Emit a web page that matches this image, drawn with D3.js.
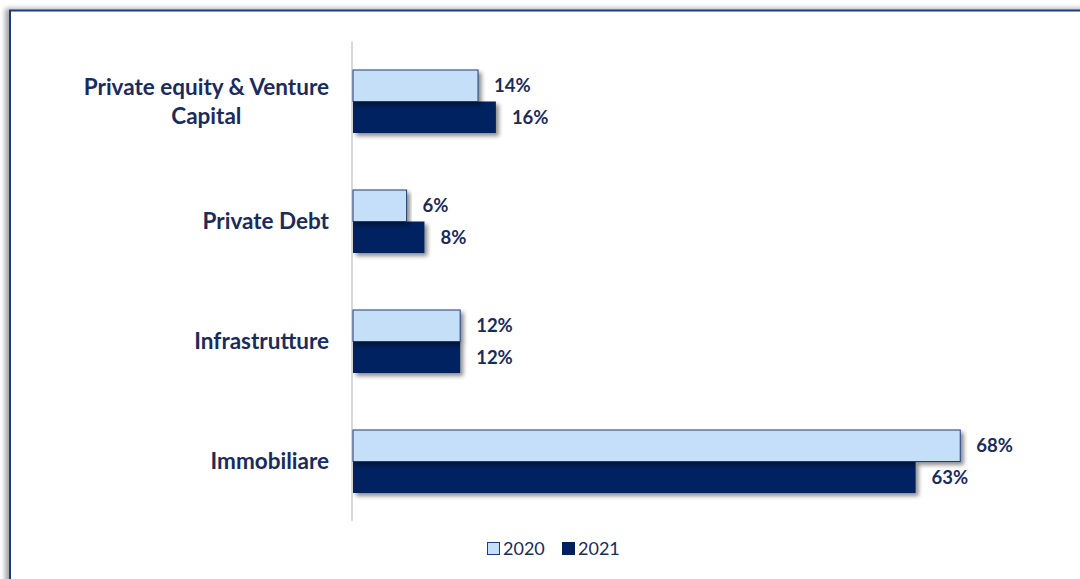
<!DOCTYPE html>
<html>
<head>
<meta charset="utf-8">
<script src="https://cdn.jsdelivr.net/npm/d3@7"></script>
<style>
  html, body { margin: 0; padding: 0; background: #ffffff; }
  svg { display: block; }
</style>
</head>
<body>
<svg id="chart" width="1080" height="579"></svg>
<script>
// Asset allocation by category, 2020 vs 2021 (%)
const categories = ["Private equity & Venture Capital", "Private Debt", "Infrastrutture", "Immobiliare"];
const categoryLines = [["Private equity & Venture", "Capital"], ["Private Debt"], ["Infrastrutture"], ["Immobiliare"]];
const seriesNames = ["2020", "2021"];
const values2020 = [14, 6, 12, 68];
const values2021 = [16, 8, 12, 63];

const W = 1080, H = 579;
const navy = "#002060";
const light = "#C6DFF8";
const textColor = "#1A2B5E";
const font = "Lato, 'Open Sans', sans-serif";

const svg = d3.select("#chart");
const defs = svg.append("defs");

defs.append("filter").attr("id", "barShadow")
  .attr("x", "-5%").attr("y", "-20%").attr("width", "115%").attr("height", "160%")
  .append("feDropShadow")
  .attr("dx", 3).attr("dy", 3).attr("stdDeviation", 2)
  .attr("flood-color", "#000").attr("flood-opacity", 0.45);

defs.append("filter").attr("id", "frameShadow")
  .attr("x", "-5%").attr("y", "-5%").attr("width", "110%").attr("height", "110%")
  .append("feDropShadow")
  .attr("dx", -4).attr("dy", -1).attr("stdDeviation", 2.5)
  .attr("flood-color", "#000").attr("flood-opacity", 0.35);

// Chart frame
svg.append("rect")
  .attr("x", 10).attr("y", 10.5)
  .attr("width", 1200).attr("height", 700)
  .attr("fill", "#fff")
  .attr("stroke", "#1F3C7C").attr("stroke-width", 2)
  .attr("filter", "url(#frameShadow)");

// Scales
const x = d3.scaleLinear().domain([0, 70]).range([353, 353 + 70 * 8.93]);
const y = d3.scaleBand().domain(categories).range([41.5, 521.5])
  .paddingInner(0.475).paddingOuter(0.2375);
const ySub = d3.scaleBand().domain(seriesNames).range([0, y.bandwidth()]);

const rows = categories.map((c, i) => ({
  cat: c,
  lines: categoryLines[i],
  vals: [
    { s: "2020", v: values2020[i] },
    { s: "2021", v: values2021[i] }
  ]
}));

// Category axis line
svg.append("line")
  .attr("x1", x(0) - 1).attr("x2", x(0) - 1)
  .attr("y1", 41.5).attr("y2", 521)
  .attr("stroke", "#D9D9D9").attr("stroke-width", 2);

// Bars
const g = svg.append("g");
const groups = g.selectAll("g.cat").data(rows).join("g")
  .attr("class", "cat")
  .attr("transform", d => `translate(0,${y(d.cat)})`);

groups.selectAll("rect").data(d => d.vals.slice().reverse()).join("rect")
  .attr("x", x(0))
  .attr("y", d => ySub(d.s))
  .attr("width", d => x(d.v) - x(0))
  .attr("height", ySub.bandwidth())
  .attr("fill", d => d.s === "2020" ? light : navy)
  .attr("stroke", d => d.s === "2020" ? "#1F3C7C" : "none")
  .attr("stroke-width", 1)
  .attr("filter", "url(#barShadow)");

// Data labels
groups.selectAll("text.val").data(d => d.vals).join("text")
  .attr("class", "val")
  .attr("x", d => x(d.v) + 16)
  .attr("y", d => ySub(d.s) + ySub.bandwidth() / 2)
  .attr("dy", "0.35em")
  .attr("font-family", font).attr("font-weight", 700).attr("font-size", 18.5)
  .attr("fill", textColor)
  .text(d => d.v + "%");

// Category labels (multi-line labels are centred as a block, block right-aligned)
const labelRight = 329;
const lineH = 29;
rows.forEach(r => {
  const cy = y(r.cat) + y.bandwidth() / 2;
  const t = svg.append("text")
    .attr("font-family", font).attr("font-weight", 700).attr("font-size", 22.5)
    .attr("fill", textColor);
  const n = r.lines.length;
  const spans = r.lines.map((ln, k) => t.append("tspan")
    .attr("y", cy + (k - (n - 1) / 2) * lineH)
    .attr("dy", "0.35em")
    .text(ln));
  const widths = spans.map(s => s.node().getComputedTextLength());
  const maxW = d3.max(widths);
  spans.forEach(s => s.attr("x", labelRight - maxW / 2).attr("text-anchor", "middle"));
});

// Legend
const legend = svg.append("g").attr("transform", "translate(487,549)");
const legendItems = [
  { s: "2020", fill: light, stroke: "#1F3C7C", x: 0 },
  { s: "2021", fill: navy, stroke: navy, x: 75 }
];
legendItems.forEach(it => {
  legend.append("rect")
    .attr("x", it.x + 0.5).attr("y", -6.5)
    .attr("width", 12).attr("height", 12)
    .attr("fill", it.fill).attr("stroke", it.stroke).attr("stroke-width", 1);
  legend.append("text")
    .attr("x", it.x + 16).attr("y", 0).attr("dy", "0.35em")
    .attr("font-family", font).attr("font-size", 18)
    .attr("fill", textColor)
    .text(it.s);
});
</script>
</body>
</html>
